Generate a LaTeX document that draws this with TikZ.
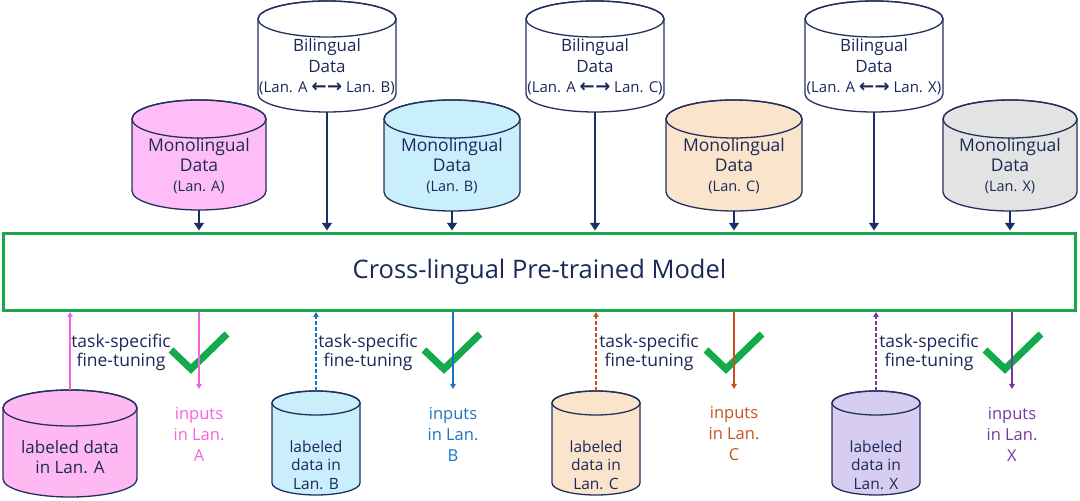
\documentclass[tikz,border=0pt]{standalone}
\usepackage{fontspec}
\usepackage{graphicx}
\setmainfont{Open Sans}
\newfontfamily\arrfont{DejaVu Sans}
\usetikzlibrary{arrows.meta}
\definecolor{navytxt}{HTML}{1C2858}
\definecolor{cylline}{HTML}{22305E}
\definecolor{navyarr}{HTML}{1C2D66}
\definecolor{gbox}{HTML}{19A84C}
\definecolor{gchk}{HTML}{12AA4B}
\definecolor{pinkc}{HTML}{F562DE}
\definecolor{bluec}{HTML}{1B74C2}
\definecolor{orangec}{HTML}{C9501C}
\definecolor{purplec}{HTML}{7838A2}
\definecolor{monoA}{HTML}{FFBDF7}
\definecolor{labA}{HTML}{FFB9F2}
\definecolor{lblue}{HTML}{C9EFFC}
\definecolor{peach}{HTML}{FBE4CC}
\definecolor{lgray}{HTML}{E3E3E3}
\definecolor{lav}{HTML}{D6CDF0}
\newcommand\biarr{{\arrfont\bfseries\scalebox{1.2}{←}\kern0.5pt\scalebox{1.2}{→}}}
% #1 name, #2 cx, #3 top (image y), #4 bottom (image y), #5 rx, #6 ry, #7 fill
\newcommand\dbcyl[7]{%
  \path[fill=#7, draw=cylline, line width=1.3pt]
    (#2-#5, 501-#3-#6) -- (#2-#5, 501-#4+#6)
    arc[start angle=180, end angle=360, x radius=#5, y radius=#6]
    -- (#2+#5, 501-#3-#6)
    arc[start angle=0, end angle=180, x radius=#5, y radius=#6] -- cycle;
  \draw[cylline, line width=1.3pt] (#2, 501-#3-#6) ellipse[x radius=#5, y radius=#6];
  \node[inner sep=0pt, outer sep=0pt, minimum width=2*#5, minimum height=#4-#3]
    (#1) at (#2, 501-#3/2-#4/2) {};
}
\begin{document}
\begin{tikzpicture}[x=1pt, y=1pt,
  txt/.style={text=navytxt, align=center, inner sep=0pt},
  bitxt/.style={txt, font=\fontsize{17}{20.5}\selectfont},
  monotxt/.style={txt, font=\fontsize{17.5}{20}\selectfont},
  ftxt/.style={txt, font=\fontsize{17.5}{19}\selectfont},
  intxt/.style={align=center, inner sep=0pt, font=\fontsize{16.5}{21}\selectfont},
  navyarrow/.style={navyarr, line width=2.4pt, -{Triangle[width=9.5pt, length=7.5pt]}, shorten >=1.5pt},
  thinarrow/.style={line width=1.3pt, -{Triangle[width=5.5pt, length=5pt]}},
  dasharrow/.style={thinarrow, dash pattern=on 3.5pt off 2.5pt},
  check/.style={gchk, line width=7pt}
]
\useasboundingbox (0,0) rectangle (1080,501);
\fill[white] (0,0) rectangle (1080,501);

% bilingual data
\dbcyl{bi1}{327}{1}{112}{69}{18}{white}
\dbcyl{bi2}{595}{1}{112}{69}{18}{white}
\dbcyl{bi3}{874}{1}{112}{69}{18}{white}
\node[bitxt] (bi1t) at (327, 501-67) {Bilingual\\Data\\{\fontsize{15}{20.5}\selectfont (Lan. A \biarr{} Lan. B)}};
\node[bitxt] (bi2t) at (595, 501-67) {Bilingual\\Data\\{\fontsize{15}{20.5}\selectfont (Lan. A \biarr{} Lan. C)}};
\node[bitxt] (bi3t) at (874, 501-67) {Bilingual\\Data\\{\fontsize{15}{20.5}\selectfont (Lan. A \biarr{} Lan. X)}};

% monolingual data
\dbcyl{mo1}{199}{100}{210}{67}{19}{monoA}
\dbcyl{mo2}{452}{100}{211}{68}{19}{lblue}
\dbcyl{mo3}{734}{100}{211}{68}{19}{peach}
\dbcyl{mo4}{1010}{100}{211}{67}{19}{lgray}
\node[monotxt] (mo1t) at (199, 501-166) {Monolingual\\Data\\{\fontsize{14.5}{18}\selectfont (Lan. A)}};
\node[monotxt] (mo2t) at (452, 501-166) {Monolingual\\Data\\{\fontsize{14.5}{18}\selectfont (Lan. B)}};
\node[monotxt] (mo3t) at (734, 501-166) {Monolingual\\Data\\{\fontsize{14.5}{18}\selectfont (Lan. C)}};
\node[monotxt] (mo4t) at (1010, 501-166) {Monolingual\\Data\\{\fontsize{14.5}{18}\selectfont (Lan. X)}};

% model box
\node[draw=gbox, line width=3pt, minimum width=1072pt, minimum height=77pt,
      text=navytxt, font=\fontsize{25.5}{28}\selectfont] (model) at (539.5, 501-272)
      {Cross-lingual Pre-trained Model};

% arrows into the model
\foreach \n in {bi1,bi2,bi3,mo1,mo2,mo3,mo4}
  \draw[navyarrow] (\n.south) -- (\n.south |- model.north);

% labeled data
\dbcyl{la1}{70}{390}{497}{67}{18}{labA}
\dbcyl{la2}{316}{391}{495}{44}{12}{lblue}
\dbcyl{la3}{596}{391}{495}{44}{12}{peach}
\dbcyl{la4}{876}{391}{495}{44}{12}{lav}
\node[txt, font=\fontsize{17}{20.5}\selectfont] (la1t) at (70, 501-457) {labeled data\\in Lan. A};
\node[txt, font=\fontsize{15.5}{18.5}\selectfont] (la2t) at (316, 501-465) {labeled\\data in\\Lan. B};
\node[txt, font=\fontsize{15.5}{18.5}\selectfont] (la3t) at (596, 501-465) {labeled\\data in\\Lan. C};
\node[txt, font=\fontsize{15.5}{18.5}\selectfont] (la4t) at (876, 501-465) {labeled\\data in\\Lan. X};

% fine-tuning labels
\node[ftxt] (ft1) at (121, 501-352) {task-specific\\fine-tuning};
\node[ftxt] (ft2) at (368, 501-352) {task-specific\\fine-tuning};
\node[ftxt] (ft3) at (649, 501-352) {task-specific\\fine-tuning};
\node[ftxt] (ft4) at (929, 501-352) {task-specific\\fine-tuning};

% check marks
\foreach \x in {171,424,706,985}
  \draw[check] (\x, 501-350) -- (\x+20, 501-369) -- (\x+56, 501-334);

% fine-tuning arrows (up)
\draw[pinkc, thinarrow] (la1.north) -- (la1.north |- model.south);
\draw[bluec, dasharrow] (la2.north) -- (la2.north |- model.south);
\draw[orangec, dasharrow] (la3.north) -- (la3.north |- model.south);
\draw[purplec, dasharrow] (la4.north) -- (la4.north |- model.south);

% inputs
\node[intxt, text=pinkc] (in1) at (199, 501-434) {inputs\\in Lan.\\A};
\node[intxt, text=bluec] (in2) at (453, 501-434) {inputs\\in Lan.\\B};
\node[intxt, text=orangec] (in3) at (734, 501-434) {inputs\\in Lan.\\C};
\node[intxt, text=purplec] (in4) at (1012, 501-434) {inputs\\in Lan.\\X};
\coordinate (d1) at (199, 501-389);
\coordinate (d2) at (453, 501-389);
\coordinate (d3) at (734, 501-389);
\coordinate (d4) at (1012, 501-389);
\draw[pinkc, thinarrow] (d1 |- model.south) -- (d1);
\draw[bluec, thinarrow] (d2 |- model.south) -- (d2);
\draw[orangec, thinarrow] (d3 |- model.south) -- (d3);
\draw[purplec, thinarrow] (d4 |- model.south) -- (d4);
\end{tikzpicture}
\end{document}
